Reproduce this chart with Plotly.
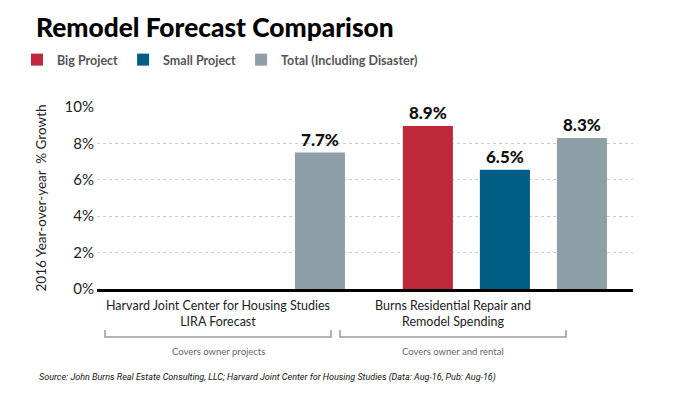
import plotly.graph_objects as go

categories = ["Harvard Joint Center for Housing Studies<br>LIRA Forecast",
              "Burns Residential Repair and<br>Remodel Spending"]
notes = ["Covers owner projects", "Covers owner and rental"]
series_names = ["Big Project", "Small Project", "Total (Including Disaster)"]
big_values = [None, 8.95]
small_values = [None, 6.55]
total_values = [7.5, 8.3]
big_labels = ["", "8.9%"]
small_labels = ["", "6.5%"]
total_labels = ["7.7%", "8.3%"]
y_ticks = [0, 2, 4, 6, 8, 10]
y_tick_labels = ["0%", "2%", "4%", "6%", "8%", "10%"]

colors = ["#BE2839", "#005E85", "#8E9FA8"]
FONT = "Lato, 'Open Sans', sans-serif"

fig = go.Figure()
for name, vals, labs, col in zip(series_names,
                                 [big_values, small_values, total_values],
                                 [big_labels, small_labels, total_labels],
                                 colors):
    fig.add_trace(go.Bar(
        name=name, x=categories, y=vals, marker_color=col,
        marker_line_width=0,
        text=labs, textposition="outside", cliponaxis=False,
        textfont=dict(family=FONT, size=17, color="#111", weight=900),
    ))

W, H = 676, 397
L, R, T, B = 97, 43, 107, 108
pw = W - L - R
ph = H - T - B

def px_x(p):
    return (p - L) / pw

def px_y(p):
    return (H - B - p) / ph

fig.update_layout(
    width=W, height=H,
    margin=dict(l=L, r=R, t=T, b=B),
    paper_bgcolor="white", plot_bgcolor="white",
    barmode="group", bargap=0.118, bargroupgap=0.35,
    font=dict(family=FONT, color="#222"),
    title=dict(text="Remodel Forecast Comparison",
               x=36 / W, xanchor="left", xref="container",
               y=1 - 28 / H, yanchor="middle", yref="container",
               font=dict(family=FONT, size=26.3, color="#000", weight=900)),
    legend=dict(orientation="h", xref="container", yref="container",
                x=17 / W, xanchor="left", y=1 - 60 / H, yanchor="middle",
                font=dict(family=FONT, size=12.5, color="#555", weight="bold"),
                itemwidth=30, traceorder="normal"),
    showlegend=True,
)

fig.update_xaxes(range=[-0.557, 1.489], showticklabels=False,
                 showline=True, linecolor="#000", linewidth=2.5,
                 showgrid=False, ticks="")
fig.update_yaxes(range=[0, 10], tickvals=y_ticks, ticktext=y_tick_labels,
                 tickfont=dict(family=FONT, size=15, color="#222"),
                 ticklabelstandoff=2,
                 showgrid=True, gridcolor="#cccccc", griddash="dot", gridwidth=1,
                 zeroline=False, showline=False, ticks="",
                 title=dict(text="2016 Year-over-year  % Growth",
                            font=dict(family=FONT, size=13.5, color="#222"),
                            standoff=14))

label_centers = [218, 453]
brackets = [(105, 331), (340, 566)]
for cat, note, cx, (x0, x1) in zip(categories, notes, label_centers, brackets):
    fig.add_annotation(text=cat, x=px_x(cx), y=px_y(296), xref="paper", yref="paper",
                       xanchor="center", yanchor="top", showarrow=False,
                       font=dict(family=FONT, size=12.5, color="#222"))
    fig.add_annotation(text=note, x=px_x(cx), y=px_y(351), xref="paper", yref="paper",
                       xanchor="center", yanchor="middle", showarrow=False,
                       font=dict(family=FONT, size=9.5, color="#666"))
    fig.add_shape(type="path", xref="paper", yref="paper",
                  path=f"M {px_x(x0)},{px_y(330)} L {px_x(x0)},{px_y(337)} "
                       f"L {px_x(x1)},{px_y(337)} L {px_x(x1)},{px_y(330)}",
                  line=dict(color="#9a9a9a", width=1.5))

fig.add_annotation(
    text="<i>Source: John Burns Real Estate Consulting, LLC; Harvard Joint Center for Housing Studies (Data: Aug-16, Pub: Aug-16)</i>",
    x=px_x(37), y=px_y(377), xref="paper", yref="paper",
    xanchor="left", yanchor="middle", showarrow=False,
    font=dict(family="Roboto, sans-serif", size=9, color="#111"))

fig.write_html("out.html", config={"displayModeBar": False},
               post_script="document.body.style.margin='0';document.body.style.padding='0';")
